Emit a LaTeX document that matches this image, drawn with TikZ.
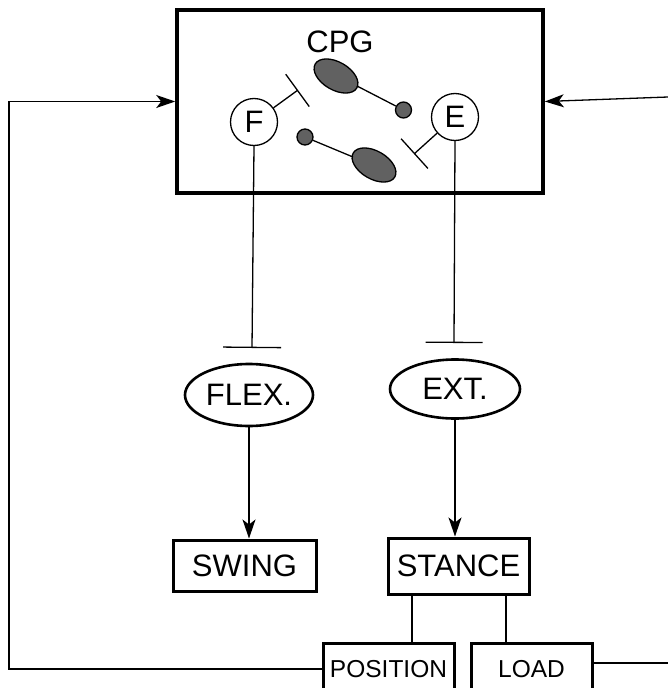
\documentclass[tikz,border=0pt]{standalone}
\usepackage{fontspec}
\setmainfont{Liberation Sans}
\usetikzlibrary{arrows.meta,shapes.geometric,calc}
\begin{document}
\begin{tikzpicture}[x=1pt,y=-1pt,
  thin line/.style={line width=1.3pt},
  arr/.style={thin line,-{Stealth[length=19pt,width=13pt,inset=5pt]}},
  inhib/.style={thin line,-{Bar[width=#1,line width=1.3pt]}},
  neuron/.style={circle,draw,line width=1.3pt,minimum size=47pt,inner sep=0pt,font=\fontsize{31}{31}\selectfont},
  muscle/.style={ellipse,draw,line width=2.6pt,inner sep=0pt,font=\fontsize{31}{31}\selectfont},
  phase/.style={rectangle,draw,line width=3pt,inner sep=0pt,font=\fontsize{31}{31}\selectfont},
  sensor/.style={rectangle,draw,line width=3pt,inner sep=0pt,font=\fontsize{24.5}{24.5}\selectfont},
  blob/.style={draw,line width=1.3pt,fill=black!62}
]
\useasboundingbox (0,0) rectangle (668,688);
\clip (0,0) rectangle (668,688);

% CPG box
\node[draw,line width=3.6pt,minimum width=366pt,minimum height=183pt,inner sep=0pt] (cpg) at (360,101.5) {};
\node[font=\fontsize{31}{31}\selectfont] (cpglabel) at (340,42) {CPG};

% neurons
\node[neuron] (F) at (254,122) {F};
\node[neuron] (E) at (455,117) {E};

% half-centre blobs
\fill[blob,rotate around={-30:(336,76)}] (336,76) ellipse [x radius=24, y radius=14];
\fill[blob,rotate around={-30:(374,165)}] (374,165) ellipse [x radius=24, y radius=14];
\node[circle,blob,minimum size=16pt,inner sep=0pt] (dotA) at (403.5,110) {};
\node[circle,blob,minimum size=16pt,inner sep=0pt] (dotB) at (305,137) {};
\coordinate (blobAedge) at (357,86);
\coordinate (blobBedge) at (353,157);
\draw[thin line] (blobAedge) -- (dotA);
\draw[thin line] (dotB) -- (blobBedge);

% inhibitory synapses inside CPG
\coordinate (Fbar) at (298,90);
\coordinate (Ebar) at (414,154);
\draw[inhib=40pt] (F) -- (Fbar);
\draw[inhib=40pt] (E) -- (Ebar);

% muscles
\node[muscle,minimum width=128pt,minimum height=62pt] (flex) at (249,395) {FLEX.};
\node[muscle,minimum width=130pt,minimum height=59pt] (ext) at (455,389) {EXT.};

\coordinate (flexbar) at (252,348);
\coordinate (extbar) at (454,343);
\draw[inhib=58pt] (F.south) -- (flexbar);
\draw[inhib=57pt] (E.south) -- (extbar);

% phases
\node[phase,minimum width=143pt,minimum height=51pt] (swing) at (244.5,565.5) {SWING};
\node[phase,minimum width=141pt,minimum height=56pt] (stance) at (458.5,566) {STANCE};

\draw[arr] (flex.south) -- (flex.south |- swing.north);
\draw[arr] (ext.south) -- (ext.south |- stance.north);

% sensors
\node[sensor,minimum width=131pt,minimum height=52pt] (pos) at (388.5,669) {POSITION};
\node[sensor,minimum width=121pt,minimum height=52pt] (load) at (531.5,669) {LOAD};

\coordinate (sA) at (412,0);
\coordinate (sB) at (506,0);
\draw[thin line] (stance.south -| sA) -- (pos.north -| sA);
\draw[thin line] (stance.south -| sB) -- (load.north -| sB);

% feedback loops
\coordinate (lcorner) at (9,669);
\draw[arr] (pos.west) -- (lcorner) |- (cpg.west);
\coordinate (rb) at (668,663);
\draw[thin line] (load.east |- rb) -- (rb);
\coordinate (rt) at (668,97);
\draw[arr] (rt) -- (cpg.east);
\end{tikzpicture}
\end{document}
